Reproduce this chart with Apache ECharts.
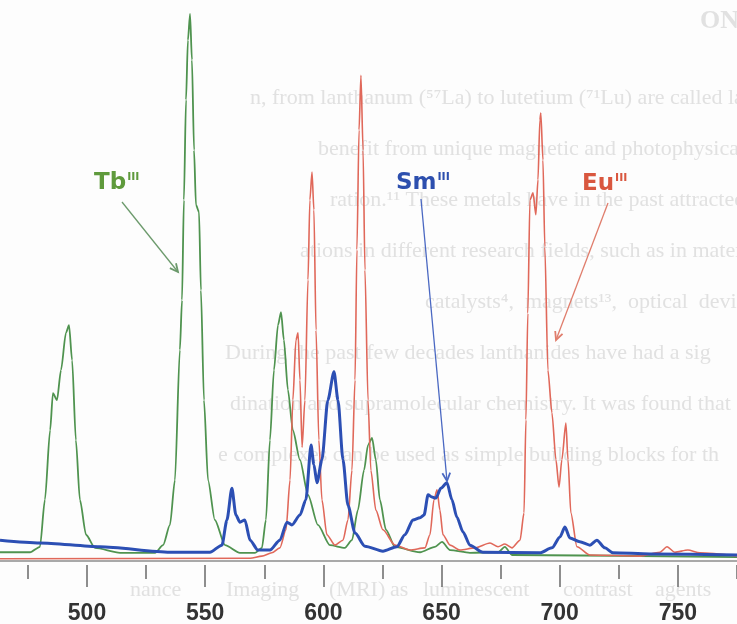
<!DOCTYPE html>
<html><head><meta charset="utf-8">
<script src="https://cdn.jsdelivr.net/npm/echarts/dist/echarts.min.js"></script>
<style>html,body{margin:0;padding:0;background:#fff}#c{width:737px;height:624px}</style>
</head><body><div id="c"></div>
<script>
// wavelength (nm), relative emission intensity
const tbData = [
 [463.2,1.6],[475.9,1.6],[480.1,2.6],[482.2,11.2],[484.4,23.9],[485.6,30.7],[487.3,29.4],[489.0,34.9],[491.1,41.7],[492.4,43.1],[493.7,36.7],[495.3,22.1],[497.0,11.2],[499.6,4.8],[503.4,2.4],[514.0,1.5],[528.8,1.5],[532.2,2.9],[535.1,6.6],[537.2,14.8],[539.3,38.6],[540.2,47.7],[541.0,66.0],[541.9,84.3],[542.7,95.2],[543.6,100],[544.4,91.6],[545.3,75.1],[546.1,65.1],[547.4,63.8],[548.2,49.5],[549.5,29.4],[551.2,14.8],[554.1,7.5],[558.4,2.9],[564.7,1.5],[571.1,1.5],[574.0,2.4],[575.7,7.5],[577.4,22.1],[579.1,34.9],[580.8,43.1],[582.1,45.5],[583.3,40.4],[585.0,31.3],[587.1,23.9],[590.1,18.5],[593.5,12.1],[597.7,6.6],[602.8,2.9],[609.1,2.4],[612.1,3.8],[614.6,9.3],[617.2,16.6],[618.9,21.2],[620.6,22.5],[622.2,18.5],[623.9,11.2],[626.5,5.7],[630.3,2.6],[640.9,1.6],[647.2,2.6],[650.2,3.5],[653.6,2.0],[662.0,1.5],[673.9,1.6],[676.8,2.6],[679.8,1.1],[775,0.7]
];
const smData = [
 [463.2,3.8],[480.1,3.3],[505.5,2.6],[535.1,1.6],[552.0,1.6],[557.1,2.9],[559.2,7.5],[561.3,13.3],[563.0,8.4],[564.7,7.1],[566.8,7.5],[569.0,3.8],[572.3,2.0],[577.4,2.0],[581.6,3.8],[584.6,7.1],[586.7,6.6],[590.1,8.4],[592.6,11.2],[594.8,21.2],[596.0,17.6],[597.3,14.3],[599.4,18.5],[601.9,29.4],[604.5,34.6],[606.2,29.4],[608.3,18.5],[610.4,10.2],[613.4,5.1],[617.6,2.7],[625.2,1.8],[631.1,2.6],[634.5,4.8],[637.9,7.5],[640.9,7.9],[642.6,8.4],[644.3,12.1],[645.9,11.7],[647.6,11.5],[649.7,13.3],[652.3,14.3],[654.4,11.2],[656.5,8.0],[659.1,5.3],[662.0,2.9],[667.5,1.6],[691.6,1.5],[696.7,2.4],[700.1,4.4],[702.2,6.2],[704.3,4.2],[708.5,3.5],[712.8,2.9],[715.7,3.8],[719.1,2.4],[722.5,1.5],[738.2,1.3],[775,1.1]
];
const euData = [
 [463.2,0.4],[569.0,0.5],[574.0,0.9],[578.2,1.5],[581.6,2.4],[584.2,5.7],[585.9,14.8],[587.1,29.4],[588.4,40.4],[589.3,41.7],[590.1,33.1],[591.0,20.8],[592.2,29.4],[593.5,51.4],[594.3,66.0],[595.2,71.1],[596.0,64.2],[596.9,42.2],[598.1,22.1],[599.4,11.2],[601.5,4.8],[604.9,2.9],[608.3,3.8],[610.4,7.5],[612.1,16.6],[613.4,33.1],[614.2,56.9],[615.1,78.8],[615.9,88.8],[616.8,75.1],[617.6,53.2],[618.9,29.4],[620.1,16.6],[622.2,9.3],[625.2,5.7],[630.3,2.9],[636.6,2.0],[643.0,2.4],[645.1,4.8],[646.8,11.2],[648.1,13.0],[649.3,9.3],[650.6,4.8],[653.6,2.9],[657.8,2.0],[664.1,2.4],[670.5,3.3],[673.9,2.6],[676.8,3.1],[679.8,2.4],[683.2,3.8],[684.9,8.8],[685.7,25.8],[686.5,45.3],[687.4,66.0],[688.7,67.3],[689.9,63.3],[690.8,69.7],[691.6,80.6],[692.0,81.9],[692.9,73.3],[693.7,57.4],[695.0,34.9],[696.7,27.1],[698.4,18.5],[699.7,13.5],[700.9,18.5],[702.6,25.2],[703.5,18.5],[704.7,8.8],[707.3,2.6],[712.8,1.1],[733.9,0.9],[742.4,1.6],[745.4,2.6],[748.7,1.6],[754.2,2.0],[759.3,1.5],[775,0.9]
];
const xTickLabels = [500, 550, 600, 650, 700, 750];
const xTickMarks = [475, 500, 525, 550, 575, 600, 625, 650, 675, 700, 725, 750, 775];
const xRange = [463.2, 775];
const seriesNames = ['Tb', 'Eu', 'Sm'];
const annotationLabels = ['Tb', 'Sm', 'Eu'];
const superscript = 'III';
const backgroundLines = [
 'n, from lanthanum (\u2075\u2077La) to lutetium (\u2077\u00b9Lu) are called lanth',
 'benefit from unique magnetic and photophysical propert',
 'ration.\u00b9\u00b9 These metals have in the past attracted large',
 'ations in different research fields, such as in material sc',
 'catalysts\u2074,  magnets\u00b9\u00b3,  optical  devices\u2075\u2076,  imaging',
 'During the past few decades lanthanides have had a sig',
 'dination and supramolecular chemistry. It was found that',
 'e complexes can be used as simple building blocks for th'
];
const bottomWords = ['nance', 'Imaging', '(MRI)', 'as', 'luminescent', 'contrast', 'agents'];

const chart = echarts.init(document.getElementById('c'), null, {renderer: 'canvas'});

const bgPos = [[250,100],[318,151],[330,202],[300,253],[425,304],[225,355],[230,406],[218,457]];
const bottomX = [130, 226, 329, 390, 423, 563, 655];
const graphic = [];
backgroundLines.forEach((t, i) => {
  graphic.push({type: 'text', z: -10, left: bgPos[i][0], top: bgPos[i][1] - 13,
    style: {text: t, font: '22px "Liberation Serif"', fill: '#e1e1e1'}});
});
bottomWords.forEach((w, i) => {
  graphic.push({type: 'text', z: -10, left: bottomX[i], top: 579,
    style: {text: w, font: '22px "Liberation Serif"', fill: '#e1e1e1'}});
});
graphic.push({type: 'text', z: -10, left: 700, top: 8, style: {text: 'ON', font: 'bold 26px "Liberation Serif"', fill: '#e1e1e1'}});

const labelColors = {Tb: '#5f9a3c', Sm: '#2d4fae', Eu: '#d9573f'};
const labelPos = {Tb: [94, 170], Sm: [396, 170], Eu: [582, 171]};
annotationLabels.forEach(n => {
  const p = labelPos[n];
  graphic.push({type: 'text', z: 20, left: p[0], top: p[1],
    style: {text: '{a|' + n + '}{s|' + superscript + '}', fill: labelColors[n],
      rich: {
        a: {fontSize: 23, fontWeight: 'bold', fontFamily: 'DejaVu Sans', lineHeight: 26, fill: labelColors[n]},
        s: {fontSize: 11, fontWeight: 'bold', fontFamily: 'DejaVu Sans', verticalAlign: 'top', lineHeight: 14, padding: [2, 0, 0, 1], fill: labelColors[n]}
      }}});
});
const arrows = {Tb: [[122,202],[178,272],'#6c9a6c'], Sm: [[421,199],[447,481],'#4a68c2'], Eu: [[608,203],[556,340],'#e07d6c']};
Object.keys(arrows).forEach(k => {
  const [a, b, col] = arrows[k];
  graphic.push({type: 'line', z: 19, shape: {x1: a[0], y1: a[1], x2: b[0], y2: b[1]}, style: {stroke: col, lineWidth: 1.3}});
  const ang = Math.atan2(b[1] - a[1], b[0] - a[0]);
  const L = 9, w = 0.45;
  const p1 = [b[0] - L * Math.cos(ang - w), b[1] - L * Math.sin(ang - w)];
  const p2 = [b[0] - L * Math.cos(ang + w), b[1] - L * Math.sin(ang + w)];
  graphic.push({type: 'polyline', z: 19, shape: {points: [p1, b, p2]}, style: {stroke: col, lineWidth: 1.8, fill: null}});
});

const baseX = {type: 'value', min: xRange[0], max: xRange[1], splitLine: {show: false}, position: 'bottom'};
chart.setOption({
  animation: false,
  backgroundColor: '#fdfdfd',
  grid: {left: 0, right: 0, top: 14, bottom: 63, outerBoundsMode: 'none', containLabel: false},
  xAxis: [
    Object.assign({}, baseX, {
      axisLine: {lineStyle: {color: '#8c8c8c', width: 1.5}},
      axisTick: {show: false},
      axisLabel: {customValues: xTickLabels, margin: 41, fontSize: 23, fontWeight: 'bold', fontFamily: 'Liberation Sans', color: '#333333'}}),
    Object.assign({}, baseX, {offset: 4, axisLine: {show: false},
      axisTick: {customValues: xTickMarks, length: 14, lineStyle: {color: '#6a6a6a', width: 1.5}}, axisLabel: {show: false}}),
    Object.assign({}, baseX, {offset: 4, axisLine: {show: false},
      axisTick: {customValues: xTickLabels, length: 22, lineStyle: {color: '#6a6a6a', width: 1.5}}, axisLabel: {show: false}})
  ],
  yAxis: {type: 'value', min: 0, max: 100, show: false},
  series: [
    {name: seriesNames[0], type: 'line', data: tbData, showSymbol: false, smooth: 0.25, smoothMonotone: 'x', z: 3,
      lineStyle: {color: '#4f934f', width: 1.8}},
    {name: seriesNames[1], type: 'line', data: euData, showSymbol: false, smooth: 0.25, smoothMonotone: 'x', z: 4,
      lineStyle: {color: '#e0685a', width: 1.6}},
    {name: seriesNames[2], type: 'line', data: smData, showSymbol: false, smooth: 0.25, smoothMonotone: 'x', z: 5,
      lineStyle: {color: '#2c4fb4', width: 3}}
  ],
  graphic: graphic
});
</script>
</body></html>
